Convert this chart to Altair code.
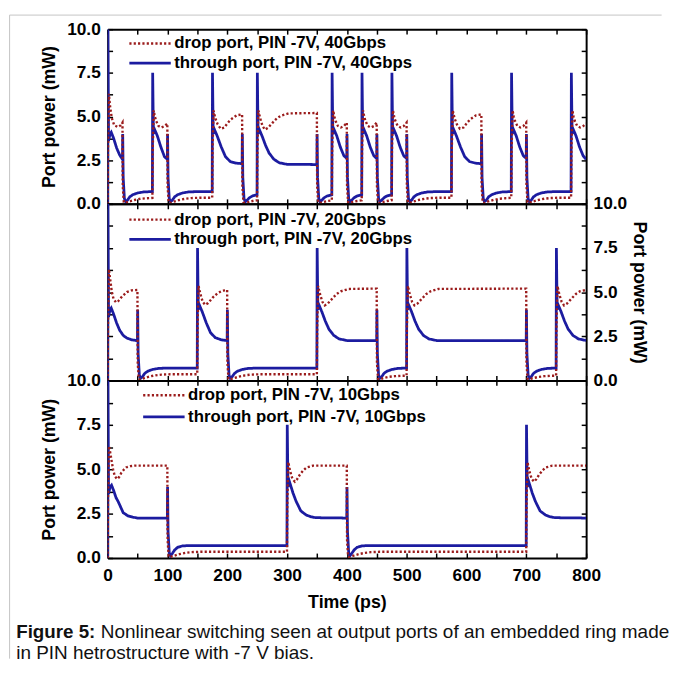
import altair as alt
import pandas as pd

# ---------------- data: (time in ps, power in mW) ----------------
THROUGH_40 = [
    (0, 0), (0.4, 10), (1.5, 3.6), (4, 4.0), (6, 4.1), (10, 3.75), (15, 3.2), (20, 2.8), (24.8, 2.55),
    (25.2, 4.0), (26, 1.5), (28, 0.3), (30, 0.12), (33, 0.2), (37, 0.4), (42, 0.52), (50, 0.62), (60, 0.68), (74.8, 0.7),
    (75.3, 7.5), (76.5, 4.0), (78, 4.3), (83, 3.9), (89, 3.25), (95, 2.7), (99.8, 2.55),
    (100.2, 4.0), (101, 1.5), (103, 0.3), (105, 0.12), (108, 0.2), (112, 0.4), (117, 0.52), (125, 0.62), (135, 0.68), (150, 0.7), (174.8, 0.7),
    (175.3, 7.5), (176.5, 4.0), (178, 4.3), (183, 3.9), (190, 3.25), (197, 2.7), (205, 2.42), (215, 2.33), (224.8, 2.3),
    (225.2, 4.0), (226, 1.5), (228, 0.3), (230, 0.12), (233, 0.2), (237, 0.35), (242, 0.45), (249.8, 0.52),
    (250.3, 7.5), (251.5, 4.0), (253, 4.3), (258, 3.9), (264, 3.35), (270, 2.9), (278, 2.55), (287, 2.35), (300, 2.26), (349.8, 2.25),
    (350.2, 4.0), (351, 1.5), (353, 0.3), (355, 0.12), (358, 0.2), (362, 0.35), (367, 0.45), (374.8, 0.52),
    (375.3, 7.5), (376.5, 4.0), (378, 4.3), (383, 3.9), (389, 3.25), (395, 2.75), (399.8, 2.6),
    (400.2, 4.0), (401, 1.5), (403, 0.3), (405, 0.12), (408, 0.2), (412, 0.35), (417, 0.45), (424.8, 0.52),
    (425.3, 7.5), (426.5, 4.0), (428, 4.3), (433, 3.9), (439, 3.25), (445, 2.75), (449.8, 2.6),
    (450.2, 4.0), (451, 1.5), (453, 0.3), (455, 0.12), (458, 0.2), (462, 0.35), (467, 0.45), (474.8, 0.52),
    (475.3, 7.5), (476.5, 4.0), (478, 4.3), (483, 3.9), (489, 3.25), (495, 2.75), (499.8, 2.6),
    (500.2, 4.0), (501, 1.5), (503, 0.3), (505, 0.12), (508, 0.2), (512, 0.4), (517, 0.52), (525, 0.62), (535, 0.68), (550, 0.7), (574.8, 0.7),
    (575.3, 7.5), (576.5, 4.0), (578, 4.3), (583, 3.9), (590, 3.25), (597, 2.7), (605, 2.42), (615, 2.33), (624.8, 2.3),
    (625.2, 4.0), (626, 1.5), (628, 0.3), (630, 0.12), (633, 0.2), (637, 0.4), (642, 0.52), (650, 0.62), (660, 0.68), (674.8, 0.7),
    (675.3, 7.5), (676.5, 4.0), (678, 4.3), (683, 3.9), (689, 3.25), (695, 2.75), (699.8, 2.6),
    (700.2, 4.0), (701, 1.5), (703, 0.3), (705, 0.12), (708, 0.2), (712, 0.4), (717, 0.52), (725, 0.62), (735, 0.68), (750, 0.7), (774.8, 0.7),
    (775.3, 7.5), (776.5, 4.0), (778, 4.3), (783, 3.9), (789, 3.25), (795, 2.75), (800, 2.55),
]
DROP_40 = [
    (0, 0), (0.5, 3.0), (2, 6.3), (4, 5.6), (7, 4.9), (11, 4.5), (17, 4.4), (22, 4.5), (24.8, 4.65),
    (25.3, 1.0), (27, 0.1), (29, 0.05), (35, 0.12), (45, 0.22), (55, 0.29), (65, 0.32), (74.8, 0.34),
    (75.3, 3.0), (77, 5.35), (79, 5.0), (81, 4.75), (85, 4.46), (90, 4.37), (95, 4.45), (99.8, 4.6),
    (100.3, 1.0), (102, 0.1), (104, 0.05), (110, 0.12), (120, 0.22), (130, 0.29), (140, 0.33), (155, 0.35), (174.8, 0.35),
    (175.3, 3.0), (177, 5.35), (180, 4.9), (184, 4.55), (189, 4.3), (195, 4.37), (200, 4.6), (206, 4.83), (216, 5.07), (224.8, 5.12),
    (225.3, 1.0), (227, 0.1), (229, 0.05), (235, 0.1), (242, 0.16), (249.8, 0.2),
    (250.3, 3.0), (252, 5.35), (255, 4.9), (259, 4.45), (263, 4.25), (268, 4.35), (276, 4.65), (283, 4.9), (290, 5.05), (303, 5.18), (349.8, 5.2),
    (350.3, 1.0), (352, 0.1), (354, 0.05), (360, 0.1), (367, 0.16), (374.8, 0.2),
    (375.3, 3.0), (377, 5.35), (379, 5.0), (381, 4.75), (385, 4.46), (390, 4.37), (395, 4.45), (399.8, 4.65),
    (400.3, 1.0), (402, 0.1), (404, 0.05), (410, 0.1), (417, 0.16), (424.8, 0.2),
    (425.3, 3.0), (427, 5.35), (429, 5.0), (431, 4.75), (435, 4.46), (440, 4.37), (445, 4.45), (449.8, 4.65),
    (450.3, 1.0), (452, 0.1), (454, 0.05), (460, 0.1), (467, 0.16), (474.8, 0.2),
    (475.3, 3.0), (477, 5.35), (479, 5.0), (481, 4.75), (485, 4.46), (490, 4.37), (495, 4.45), (499.8, 4.65),
    (500.3, 1.0), (502, 0.1), (504, 0.05), (510, 0.12), (520, 0.22), (530, 0.29), (540, 0.33), (555, 0.35), (574.8, 0.35),
    (575.3, 3.0), (577, 5.35), (580, 4.9), (584, 4.55), (589, 4.3), (595, 4.37), (600, 4.6), (606, 4.83), (616, 5.07), (624.8, 5.12),
    (625.3, 1.0), (627, 0.1), (629, 0.05), (635, 0.12), (645, 0.22), (655, 0.29), (665, 0.32), (674.8, 0.34),
    (675.3, 3.0), (677, 5.35), (679, 5.0), (681, 4.75), (685, 4.46), (690, 4.37), (695, 4.45), (699.8, 4.65),
    (700.3, 1.0), (702, 0.1), (704, 0.05), (710, 0.12), (720, 0.22), (730, 0.29), (740, 0.33), (755, 0.35), (774.8, 0.35),
    (775.3, 3.0), (777, 5.35), (779, 5.0), (781, 4.75), (785, 4.46), (790, 4.37), (795, 4.45), (800, 4.6),
]

THROUGH_20 = [
    (0, 0), (0.4, 10), (1.5, 3.6), (4, 4.0), (6, 4.1), (10, 3.75), (15, 3.25), (20, 2.85), (26, 2.55), (32, 2.4), (40, 2.3), (49.8, 2.25),
    (50.2, 4.0), (51, 1.5), (53, 0.3), (55, 0.12), (58, 0.2), (62, 0.4), (67, 0.52), (75, 0.62), (85, 0.68), (100, 0.7), (149.8, 0.7),
    (150.3, 7.5), (151.5, 4.0), (153, 4.3), (158, 3.9), (165, 3.25), (172, 2.7), (180, 2.42), (190, 2.3), (199.8, 2.25),
    (200.2, 4.0), (201, 1.5), (203, 0.3), (205, 0.12), (208, 0.2), (212, 0.4), (217, 0.52), (225, 0.62), (235, 0.68), (250, 0.7), (349.8, 0.7),
    (350.3, 7.5), (351.5, 4.0), (353, 4.3), (358, 3.9), (364, 3.35), (370, 2.9), (378, 2.55), (387, 2.35), (400, 2.26), (449.8, 2.25),
    (450.2, 4.0), (451, 1.5), (453, 0.3), (455, 0.12), (458, 0.2), (462, 0.4), (467, 0.52), (475, 0.62), (485, 0.68), (499.8, 0.7),
    (500.3, 7.5), (501.5, 4.0), (503, 4.3), (508, 3.9), (514, 3.35), (520, 2.9), (528, 2.55), (537, 2.35), (550, 2.26), (699.8, 2.25),
    (700.2, 4.0), (701, 1.5), (703, 0.3), (705, 0.12), (708, 0.2), (712, 0.4), (717, 0.52), (725, 0.62), (735, 0.68), (749.8, 0.7),
    (750.3, 7.5), (751.5, 4.0), (753, 4.3), (758, 3.9), (764, 3.35), (770, 2.9), (778, 2.55), (787, 2.35), (800, 2.26),
]
DROP_20 = [
    (0, 0), (0.5, 3.0), (2, 6.3), (4, 5.8), (7, 5.0), (10, 4.6), (14, 4.42), (18, 4.5), (24, 4.75), (32, 5.0), (40, 5.1), (49.8, 5.12),
    (50.3, 1.0), (52, 0.1), (54, 0.05), (60, 0.12), (70, 0.22), (80, 0.29), (90, 0.33), (105, 0.35), (149.8, 0.35),
    (150.3, 3.0), (152, 5.35), (155, 4.9), (159, 4.45), (163, 4.28), (168, 4.38), (176, 4.7), (184, 4.95), (192, 5.08), (199.8, 5.12),
    (200.3, 1.0), (202, 0.1), (204, 0.05), (210, 0.12), (220, 0.22), (230, 0.29), (240, 0.33), (255, 0.35), (349.8, 0.35),
    (350.3, 3.0), (352, 5.35), (355, 4.9), (359, 4.45), (363, 4.25), (368, 4.35), (376, 4.65), (383, 4.9), (390, 5.05), (403, 5.18), (449.8, 5.2),
    (450.3, 1.0), (452, 0.1), (454, 0.05), (460, 0.12), (470, 0.2), (480, 0.24), (490, 0.26), (499.8, 0.27),
    (500.3, 3.0), (502, 5.35), (505, 4.9), (509, 4.45), (513, 4.25), (518, 4.35), (526, 4.65), (533, 4.9), (540, 5.05), (553, 5.18), (699.8, 5.2),
    (700.3, 1.0), (702, 0.1), (704, 0.05), (710, 0.12), (720, 0.2), (730, 0.24), (740, 0.26), (749.8, 0.27),
    (750.3, 3.0), (752, 5.35), (755, 4.9), (759, 4.45), (763, 4.25), (768, 4.35), (776, 4.65), (783, 4.9), (790, 5.05), (800, 5.12),
]

THROUGH_10 = [
    (0, 0), (0.4, 10), (1.5, 3.6), (4, 4.0), (6.5, 4.1), (10, 3.8), (14, 3.4), (18, 3.15), (22, 2.85), (26, 2.55), (34, 2.37), (42, 2.3), (50, 2.25), (99.8, 2.25),
    (100.2, 4.0), (101, 1.5), (103, 0.3), (105, 0.12), (108, 0.25), (112, 0.45), (117, 0.6), (125, 0.68), (135, 0.7), (299.8, 0.7),
    (300.3, 7.5), (301.5, 4.0), (304, 4.3), (310, 3.65), (315, 3.2), (323, 2.65), (332, 2.42), (340, 2.32), (348, 2.27), (399.8, 2.25),
    (400.2, 4.0), (401, 1.5), (403, 0.3), (405, 0.12), (408, 0.25), (412, 0.45), (417, 0.6), (425, 0.68), (435, 0.7), (699.8, 0.7),
    (700.3, 7.5), (701.5, 4.0), (704, 4.3), (710, 3.65), (715, 3.2), (723, 2.65), (732, 2.42), (740, 2.32), (748, 2.27), (800, 2.25),
]
DROP_10 = [
    (0, 0), (0.5, 3.0), (2, 6.3), (4, 6.0), (6.5, 5.5), (9, 5.0), (12, 4.6), (16, 4.45), (19, 4.55), (23, 4.8), (27, 4.97), (31, 5.1), (38, 5.17), (45, 5.2), (99.8, 5.2),
    (100.3, 1.0), (102, 0.1), (104, 0.05), (110, 0.12), (120, 0.22), (130, 0.29), (140, 0.33), (155, 0.35), (299.8, 0.35),
    (300.3, 3.0), (302, 5.4), (305, 4.9), (309, 4.45), (313, 4.3), (317, 4.45), (321.5, 4.7), (327, 4.93), (332.5, 5.1), (343.5, 5.2), (399.8, 5.2),
    (400.3, 1.0), (402, 0.1), (404, 0.05), (410, 0.12), (420, 0.22), (430, 0.29), (440, 0.33), (455, 0.35), (699.8, 0.35),
    (700.3, 3.0), (702, 5.4), (705, 4.9), (709, 4.45), (713, 4.3), (717, 4.45), (721.5, 4.7), (727, 4.93), (732.5, 5.1), (743.5, 5.2), (800, 5.2),
]

LABELS_40 = ["drop port, PIN -7V, 40Gbps", "through port, PIN -7V, 40Gbps"]
LABELS_20 = ["drop port, PIN -7V, 20Gbps", "through port, PIN -7V, 20Gbps"]
LABELS_10 = ["drop port, PIN -7V, 10Gbps", "through port, PIN -7V, 10Gbps"]

X_TICKS = [0, 50, 100, 150, 200, 250, 300, 350, 400, 450, 500, 550, 600, 650, 700, 750, 800]
Y_TICKS = [0, 1.25, 2.5, 3.75, 5, 6.25, 7.5, 8.75, 10]
Y_TITLE = "Port power (mW)"
X_TITLE = "Time (ps)"

CAPTION_BOLD = "Figure 5:"
CAPTION_LINE1 = "Nonlinear switching seen at output ports of an embedded ring made"
CAPTION_LINE2 = "in PIN hetrostructure with -7 V bias."

# ---------------- styling ----------------
BLUE = "#1c1ca0"
RED = "#9b1c1c"
FONT = "Liberation Sans"
W = 485
H40, H20, H10 = 177, 179, 180


def axis(orient, values, show_labels, title, label_expr, label_pad, title_pad):
    kw = dict(
        orient=orient, values=values, grid=False,
        domain=True, domainColor="black", domainWidth=2,
        ticks=True, tickSize=alt.ExprRef(expr="-5"), tickColor="black", tickWidth=1.5,
        labels=show_labels, labelFont=FONT, labelFontSize=17.5, labelFontWeight="bold",
        labelColor="black", labelPadding=label_pad, labelOverlap=False, labelFlush=False,
        title=title, titleFont=FONT, titleFontSize=18, titleFontWeight="bold",
        titleColor="black", titlePadding=title_pad,
    )
    if show_labels:
        kw["labelExpr"] = label_expr
    return alt.Axis(**kw)


X_EXPR = "datum.value % 100 == 0 ? format(datum.value, 'd') : ''"
Y_EXPR = "datum.value % 2.5 == 0 ? format(datum.value, '.1f') : ''"


def panel(through, drop, labels, height, left_labels, left_title, right_labels, right_title,
          bottom_labels, bottom_title, legend_x, legend_y, legend_row):
    df = pd.DataFrame(
        [{"t": t, "p": p, "series": labels[1]} for t, p in through]
        + [{"t": t, "p": p, "series": labels[0]} for t, p in drop]
    )
    xs = alt.Scale(domain=[0, 800], nice=False, zero=False)
    ys = alt.Scale(domain=[0, 10], nice=False)
    legend = alt.Legend(
        title=None, orient="none", legendX=legend_x, legendY=legend_y, padding=0,
        clipHeight=legend_row, rowPadding=0, symbolType="stroke", symbolSize=1764,
        labelFont=FONT, labelFontSize=17, labelFontWeight="bold", labelColor="black",
        labelOffset=2, labelLimit=400,
    )
    color = alt.Color("series:N", scale=alt.Scale(domain=labels, range=[RED, BLUE]), legend=legend)
    dash = alt.StrokeDash("series:N", scale=alt.Scale(domain=labels, range=[[2.2, 2.2], [1, 0]]), legend=legend)
    width = alt.StrokeWidth("series:N", scale=alt.Scale(domain=labels, range=[2.4, 2.8]), legend=legend)

    x_bottom = axis("bottom", X_TICKS, bottom_labels, bottom_title, X_EXPR, 14, 10)
    y_left = axis("left", Y_TICKS, left_labels, left_title, Y_EXPR, 12.5, 8)
    x_top = axis("top", X_TICKS, False, None, X_EXPR, 10, 5)
    y_right = axis("right", Y_TICKS, right_labels, right_title, Y_EXPR, 12, 3)

    blue = alt.Chart(df).transform_filter(alt.datum.series == labels[1]).mark_line(clip=True).encode(
        x=alt.X("t:Q", scale=xs, axis=x_bottom),
        y=alt.Y("p:Q", scale=ys, axis=y_left),
        color=color, strokeDash=dash, strokeWidth=width,
    )
    red = alt.Chart(df).transform_filter(alt.datum.series == labels[0]).mark_line(clip=True, strokeCap="butt").encode(
        x=alt.X("t:Q", scale=xs, axis=None),
        y=alt.Y("p:Q", scale=ys, axis=None),
        color=color, strokeDash=dash, strokeWidth=width,
    )
    mirror = alt.Chart(df).mark_line(opacity=0, clip=True).encode(
        x=alt.X("t:Q", scale=xs, axis=x_top),
        y=alt.Y("p:Q", scale=ys, axis=y_right),
    )
    return alt.layer(blue, red, mirror).resolve_axis(x="independent", y="independent").properties(width=W, height=height)


p40 = panel(THROUGH_40, DROP_40, LABELS_40, H40, True, Y_TITLE, False, None, False, None, 20.5, 4.5, 20)
p20 = panel(THROUGH_20, DROP_20, LABELS_20, H20, False, None, True, Y_TITLE, False, None, 20.5, 6, 20)
p10 = panel(THROUGH_10, DROP_10, LABELS_10, H10, True, Y_TITLE, False, None, True, X_TITLE, 34.5, 4, 22)

# caption block (the caption view starts at the bottom edge of the last panel)
TOTAL_H = H40 + H20 + H10
cap_df = pd.DataFrame({"bold": [CAPTION_BOLD], "l1": [CAPTION_LINE1], "l2": [CAPTION_LINE2]})
cap_bold = alt.Chart(cap_df).mark_text(align="left", baseline="middle", font=FONT, fontSize=19,
                                       fontWeight="bold", color="#111111").encode(
    x=alt.value(-92.7), y=alt.value(75.5), text="bold:N")
cap_l1 = alt.Chart(cap_df).mark_text(align="left", baseline="middle", font=FONT, fontSize=19.2,
                                     color="#111111").encode(
    x=alt.value(-7), y=alt.value(75.5), text="l1:N")
cap_l2 = alt.Chart(cap_df).mark_text(align="left", baseline="middle", font=FONT, fontSize=19.2,
                                     color="#111111").encode(
    x=alt.value(-92.7), y=alt.value(96), text="l2:N")
# light grey figure frame (top and left edges visible in the reference)
frame_top = alt.Chart(cap_df).mark_rule(color="#c4c4c4", strokeWidth=1).encode(
    x=alt.value(-99.4), x2=alt.value(561.5), y=alt.value(-TOTAL_H - 14.3))
frame_left = alt.Chart(cap_df).mark_rule(color="#c4c4c4", strokeWidth=1).encode(
    x=alt.value(-99.4), y=alt.value(-TOTAL_H - 14.3), y2=alt.value(102))
caption = alt.layer(frame_top, frame_left, cap_bold, cap_l1, cap_l2).properties(width=W, height=90)

chart = (
    alt.vconcat(p40, p20, p10, caption, spacing=0, bounds="flush")
    .resolve_scale(color="independent", strokeDash="independent", strokeWidth="independent")
    .properties(padding={"left": 0, "top": 1, "right": 0, "bottom": 0}, background="white")
    .configure_view(stroke="transparent")
)

chart.save("out.html", embed_options={"renderer": "svg", "actions": False})
